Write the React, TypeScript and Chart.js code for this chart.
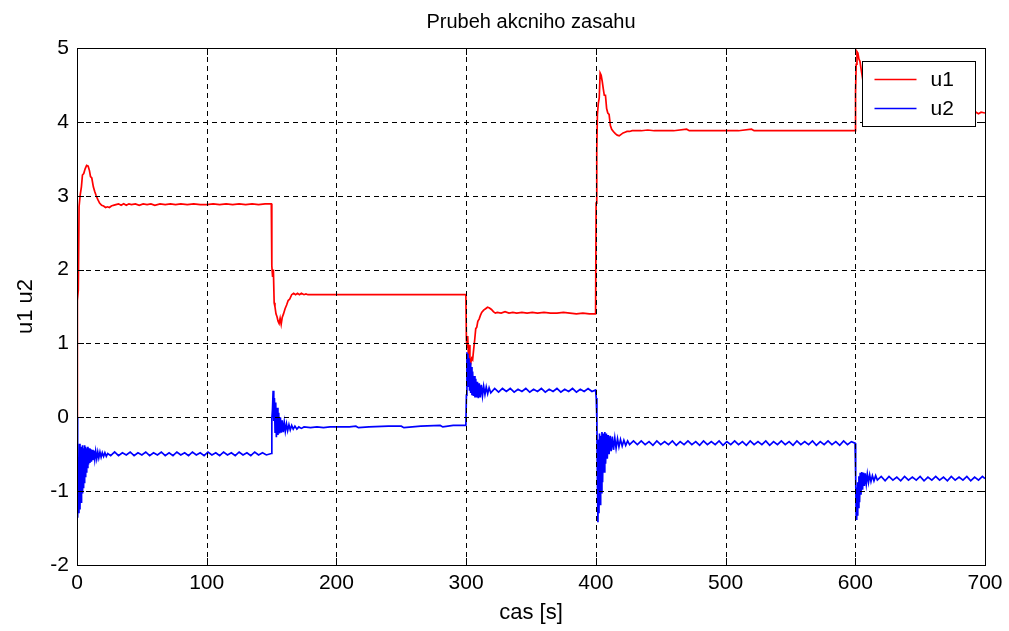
import { useEffect, useRef } from 'react';
import { Chart, registerables } from 'chart.js';

Chart.register(...registerables);

type Pt = [number, number];

const chartTitle = 'Prubeh akcniho zasahu';
const xAxisTitle = 'cas [s]';
const yAxisTitle = 'u1 u2';
const seriesNames = ['u1', 'u2'];
const seriesColors = ['#ff0000', '#0000ff'];
const xTicks = [0, 100, 200, 300, 400, 500, 600, 700];
const yTicks = [-2, -1, 0, 1, 2, 3, 4, 5];

// u1 — control action of the first input, [time s, value]
const u1Start: Pt[] = [
  [0, 0], [0.3, 1.58], [1.0, 1.72], [1.6, 2.85], [2.4, 3.0], [3.4, 3.12], [4.2, 3.28], [5.2, 3.3],
  [6.2, 3.36], [7.4, 3.41], [8.6, 3.4], [9.6, 3.34], [10.4, 3.26], [11.4, 3.24], [12.6, 3.12],
  [13.6, 3.06], [14.8, 3.0], [16.0, 2.95], [17.4, 2.9], [19, 2.87], [20.5, 2.86], [22, 2.84],
  [23.5, 2.85], [25, 2.84], [26.5, 2.86], [28, 2.87], [30, 2.88],
];
const u1Hold1: Pt[] = [
  [32, 2.89], [34, 2.87], [36, 2.89], [38, 2.87], [40, 2.89], [42, 2.88], [45, 2.89], [48, 2.87],
  [51, 2.89], [54, 2.88], [57, 2.89], [60, 2.87], [64, 2.89], [68, 2.88], [72, 2.89], [76, 2.88],
  [80, 2.89], [85, 2.88], [90, 2.89], [95, 2.88], [100, 2.88], [105, 2.89], [110, 2.88], [115, 2.89],
  [120, 2.88], [125, 2.89], [130, 2.88], [135, 2.89], [140, 2.88], [145, 2.89], [149.8, 2.89],
];
const u1Step150: Pt[] = [
  [150.2, 2.05], [150.8, 1.9], [151.4, 2.0], [152.0, 1.55], [152.6, 1.5], [153.4, 1.4], [154.2, 1.36],
  [155.0, 1.3], [155.8, 1.27], [156.6, 1.34], [157.4, 1.26], [158.2, 1.35], [159.2, 1.4], [160.4, 1.47],
  [161.6, 1.52], [162.8, 1.58], [164, 1.6], [165.5, 1.66], [167, 1.68], [168.5, 1.66], [170, 1.68],
  [171.5, 1.66], [173, 1.68], [175, 1.66], [176.5, 1.67], [178, 1.66],
];
const u1Hold2: Pt[] = [[200, 1.66], [230, 1.66], [260, 1.66], [299.8, 1.66]];
const u1Step300: Pt[] = [
  [300.2, 1.05], [300.7, 0.95], [301.2, 1.1], [301.7, 0.85], [302.3, 0.98], [302.9, 0.76], [303.6, 0.74],
  [304.3, 0.8], [305.0, 0.78], [305.8, 0.92], [306.6, 1.05], [307.4, 1.2], [308.2, 1.22], [309.0, 1.3],
  [310, 1.33], [311, 1.38], [312, 1.42], [313.5, 1.45], [315, 1.47], [316.5, 1.49], [318, 1.48],
  [319.5, 1.46], [321, 1.43], [322.5, 1.41], [324, 1.42],
];
const u1Hold3: Pt[] = [
  [327, 1.41], [330, 1.43], [333, 1.41], [336, 1.42], [339, 1.41], [343, 1.42], [347, 1.41], [351, 1.42],
  [355, 1.41], [360, 1.42], [365, 1.41], [370, 1.41], [375, 1.42], [380, 1.41], [385, 1.4], [390, 1.41],
  [395, 1.4], [399.8, 1.4],
];
const u1Step400: Pt[] = [
  [400.2, 2.9], [400.7, 3.6], [401.2, 4.1], [401.9, 4.25], [402.6, 4.32], [403.3, 4.66], [404.1, 4.63],
  [404.9, 4.55], [405.7, 4.45], [406.5, 4.36], [407.4, 4.36], [408.3, 4.18], [409.2, 4.12], [410.2, 4.1],
  [411.2, 3.95], [412.2, 3.9], [413.5, 3.87], [415, 3.84], [416.5, 3.82], [418, 3.81], [419.5, 3.83],
  [421, 3.85], [422.5, 3.86], [424, 3.87], [426, 3.87], [428, 3.88],
];
const u1Hold4: Pt[] = [
  [435, 3.88], [440, 3.89], [445, 3.88], [460, 3.88], [470, 3.9], [472, 3.88], [490, 3.88], [510, 3.88],
  [520, 3.9], [522, 3.88], [540, 3.88], [560, 3.88], [580, 3.88], [599.8, 3.88],
];
const u1Step600: Pt[] = [
  [600.2, 4.4], [600.7, 4.78], [601.3, 4.95], [602.0, 4.93], [602.8, 4.85], [603.6, 4.82], [604.6, 4.7],
  [606, 4.55], [608, 4.38], [610, 4.25], [613, 4.15], [617, 4.1], [622, 4.09], [630, 4.11], [640, 4.12],
  [660, 4.12], [680, 4.12], [690, 4.12], [693, 4.13], [695, 4.11], [697, 4.13], [700, 4.12],
];

// u2 — control action of the second input, [time s, value]
const u2Start: Pt[] = [
  [0, 0], [0.3, -1.0], [0.7, -1.36], [1.1, -0.78], [1.5, -1.3], [1.9, -0.36], [2.3, -1.25], [2.7, -0.45],
  [3.1, -1.15], [3.5, -0.4], [3.9, -1.02], [4.3, -0.38], [4.7, -0.95], [5.1, -0.42], [5.5, -0.88],
  [5.9, -0.38], [6.3, -0.8], [6.7, -0.4], [7.1, -0.74], [7.5, -0.42], [7.9, -0.68], [8.4, -0.4],
  [8.9, -0.64], [9.4, -0.42], [9.9, -0.62], [10.5, -0.43], [11.1, -0.6], [11.7, -0.44], [12.3, -0.58],
  [13, -0.45], [13.7, -0.57], [14.4, -0.46], [15.2, -0.56], [16, -0.47], [16.8, -0.55], [17.7, -0.47],
  [18.6, -0.54], [19.5, -0.48], [20.5, -0.53], [21.5, -0.48], [22.6, -0.53], [23.7, -0.49],
];
const u2Hold1: Pt[] = [
  [26, -0.52], [29, -0.47], [32, -0.52], [35, -0.48], [38, -0.51], [41, -0.47], [44, -0.52], [47, -0.48],
  [50, -0.51], [53, -0.47], [56, -0.52], [59, -0.48], [62, -0.51], [65, -0.47], [68, -0.52], [71, -0.48],
  [74, -0.52], [77, -0.47], [80, -0.51], [83, -0.48], [86, -0.52], [89, -0.47], [92, -0.51], [95, -0.48],
  [98, -0.52], [101, -0.47], [104, -0.51], [107, -0.48], [110, -0.52], [113, -0.47], [116, -0.51],
  [119, -0.48], [122, -0.52], [125, -0.47], [128, -0.51], [131, -0.48], [134, -0.52], [137, -0.47],
  [140, -0.51], [143, -0.48], [146, -0.51], [149.8, -0.49],
];
const u2Step150: Pt[] = [
  [150.2, -0.02], [150.7, 0.1], [151.2, 0.36], [151.7, -0.05], [152.2, 0.26], [152.7, -0.2], [153.2, 0.2],
  [153.7, -0.27], [154.3, 0.13], [154.9, -0.24], [155.5, 0.06], [156.1, -0.22], [156.8, 0.0], [157.5, -0.21],
  [158.2, -0.04], [159, -0.2], [159.8, -0.07], [160.6, -0.19], [161.5, -0.09], [162.4, -0.18], [163.4, -0.1],
  [164.4, -0.17], [165.5, -0.11], [166.7, -0.16], [168, -0.12], [169.5, -0.16], [171, -0.13], [173, -0.15],
  [175, -0.13],
];
const u2Hold2: Pt[] = [
  [180, -0.14], [185, -0.13], [190, -0.14], [195, -0.13], [200, -0.13], [210, -0.13], [215, -0.12],
  [217, -0.14], [225, -0.13], [240, -0.12], [250, -0.12], [252, -0.14], [265, -0.12], [280, -0.11],
  [282, -0.13], [290, -0.11], [299.8, -0.11],
];
const u2Step300: Pt[] = [
  [300.2, 0.3], [300.6, 0.88], [301.0, 0.5], [301.4, 0.86], [301.8, 0.42], [302.2, 0.8], [302.6, 0.36],
  [303.0, 0.74], [303.5, 0.33], [304, 0.68], [304.5, 0.3], [305, 0.62], [305.6, 0.29], [306.2, 0.56],
  [306.8, 0.27], [307.4, 0.52], [308, 0.27], [308.7, 0.48], [309.4, 0.26], [310.1, 0.46], [310.9, 0.27],
  [311.7, 0.44], [312.6, 0.29], [313.5, 0.42], [314.5, 0.31], [315.5, 0.41], [316.6, 0.32], [317.7, 0.4],
  [319, 0.33],
];
const u2Hold3: Pt[] = [
  [322, 0.39], [325, 0.34], [328, 0.39], [331, 0.35], [334, 0.39], [337, 0.34], [340, 0.38], [343, 0.35],
  [346, 0.39], [349, 0.34], [352, 0.38], [355, 0.35], [358, 0.39], [361, 0.34], [364, 0.38], [367, 0.35],
  [370, 0.39], [373, 0.34], [376, 0.38], [379, 0.35], [382, 0.39], [385, 0.34], [388, 0.38], [391, 0.35],
  [394, 0.39], [397, 0.35], [399.8, 0.37],
];
const u2Step400: Pt[] = [
  [400.3, 0.26], [400.8, -0.05], [401.2, -0.9], [401.6, -1.42], [402, -0.3], [402.4, -1.3], [402.8, -0.22],
  [403.2, -1.18], [403.7, -0.25], [404.2, -1.02], [404.7, -0.2], [405.2, -0.88], [405.7, -0.22],
  [406.3, -0.74], [406.9, -0.2], [407.5, -0.63], [408.1, -0.22], [408.8, -0.56], [409.5, -0.24],
  [410.2, -0.5], [411, -0.25], [411.8, -0.46], [412.7, -0.26], [413.6, -0.44], [414.6, -0.28],
  [415.6, -0.42], [416.7, -0.29], [417.8, -0.4], [419, -0.3], [420.3, -0.39], [421.6, -0.31],
  [423, -0.38], [424.5, -0.32], [426, -0.37],
];
const u2Hold4: Pt[] = [
  [429, -0.32], [432, -0.37], [435, -0.32], [438, -0.37], [441, -0.33], [444, -0.38], [447, -0.32],
  [450, -0.37], [453, -0.33], [456, -0.37], [459, -0.32], [462, -0.38], [465, -0.33], [468, -0.37],
  [471, -0.32], [474, -0.37], [477, -0.33], [480, -0.38], [483, -0.32], [486, -0.37], [489, -0.33],
  [492, -0.37], [495, -0.32], [498, -0.38], [501, -0.33], [504, -0.37], [507, -0.32], [510, -0.37],
  [513, -0.33], [516, -0.38], [519, -0.32], [522, -0.37], [525, -0.33], [528, -0.37], [531, -0.32],
  [534, -0.38], [537, -0.33], [540, -0.37], [543, -0.32], [546, -0.37], [549, -0.33], [552, -0.38],
  [555, -0.32], [558, -0.37], [561, -0.33], [564, -0.37], [567, -0.32], [570, -0.38], [573, -0.33],
  [576, -0.37], [579, -0.32], [582, -0.37], [585, -0.33], [588, -0.38], [591, -0.32], [594, -0.37],
  [597, -0.33], [599.8, -0.35],
];
const u2Step600: Pt[] = [
  [600.3, -0.8], [600.7, -1.38], [601.1, -0.95], [601.5, -1.32], [601.9, -0.88], [602.3, -1.22],
  [602.8, -0.8], [603.3, -1.15], [603.8, -0.75], [604.4, -1.05], [605, -0.74], [605.6, -0.98],
  [606.3, -0.75], [607, -0.93], [607.7, -0.76], [608.5, -0.9], [609.3, -0.77], [610.2, -0.88],
  [611.1, -0.78], [612.1, -0.87], [613.2, -0.79], [614.4, -0.86], [615.7, -0.79], [617, -0.85],
];
const u2Hold5: Pt[] = [
  [620, -0.8], [623, -0.86], [626, -0.8], [629, -0.85], [632, -0.81], [635, -0.86], [638, -0.8],
  [641, -0.85], [644, -0.81], [647, -0.85], [650, -0.8], [653, -0.86], [656, -0.81], [659, -0.85],
  [662, -0.8], [665, -0.85], [668, -0.81], [671, -0.86], [674, -0.8], [677, -0.85], [680, -0.81],
  [683, -0.85], [686, -0.8], [689, -0.86], [692, -0.81], [695, -0.85], [698, -0.8], [700, -0.83],
];

const u1Segments = [u1Start, u1Hold1, u1Step150, u1Hold2, u1Step300, u1Hold3, u1Step400, u1Hold4, u1Step600];
const u2Segments = [u2Start, u2Hold1, u2Step150, u2Hold2, u2Step300, u2Hold3, u2Step400, u2Hold4, u2Step600, u2Hold5];

const toXY = (segments: Pt[][]) => segments.flat().map(([x, y]) => ({ x, y }));

const FONT = '"Liberation Sans", Arial, sans-serif';

// Boxed axes in the style of a classic MATLAB figure: dashed grid over the traces,
// inward tick marks on all four sides, a solid frame and an in-plot legend.
const figurePlugin = {
  id: 'figureFrame',
  afterDatasetsDraw(chart: any) {
    const { ctx, chartArea: a, scales } = chart;
    const xs = scales.x;
    const ys = scales.y;
    const tick = 7;
    ctx.save();
    ctx.strokeStyle = '#000';
    ctx.lineWidth = 1;

    ctx.setLineDash([5, 4]);
    ctx.beginPath();
    xTicks.slice(1, -1).forEach((v) => {
      const px = Math.round(xs.getPixelForValue(v)) + 0.5;
      ctx.moveTo(px, a.top);
      ctx.lineTo(px, a.bottom);
    });
    yTicks.slice(1, -1).forEach((v) => {
      const py = Math.round(ys.getPixelForValue(v)) + 0.5;
      ctx.moveTo(a.left, py);
      ctx.lineTo(a.right, py);
    });
    ctx.stroke();
    ctx.setLineDash([]);

    ctx.beginPath();
    xTicks.forEach((v) => {
      const px = Math.round(xs.getPixelForValue(v)) + 0.5;
      ctx.moveTo(px, a.bottom);
      ctx.lineTo(px, a.bottom - tick);
      ctx.moveTo(px, a.top);
      ctx.lineTo(px, a.top + tick);
    });
    yTicks.forEach((v) => {
      const py = Math.round(ys.getPixelForValue(v)) + 0.5;
      ctx.moveTo(a.left, py);
      ctx.lineTo(a.left + tick, py);
      ctx.moveTo(a.right, py);
      ctx.lineTo(a.right - tick, py);
    });
    ctx.stroke();

    ctx.strokeRect(Math.round(a.left) + 0.5, Math.round(a.top) + 0.5,
      Math.round(a.right - a.left), Math.round(a.bottom - a.top));

    // legend box
    const lw = 113;
    const lh = 65;
    const lx = Math.round(a.right - 10 - lw) + 0.5;
    const ly = Math.round(a.top + 13) + 0.5;
    ctx.fillStyle = '#fff';
    ctx.fillRect(lx, ly, lw, lh);
    ctx.strokeStyle = '#000';
    ctx.strokeRect(lx, ly, lw, lh);
    seriesNames.forEach((name, i) => {
      const yy = ly + 18 + i * 29;
      ctx.strokeStyle = seriesColors[i];
      ctx.lineWidth = 1.6;
      ctx.beginPath();
      ctx.moveTo(lx + 12, yy);
      ctx.lineTo(lx + 54, yy);
      ctx.stroke();
      ctx.fillStyle = '#000';
      ctx.font = `21px ${FONT}`;
      ctx.textBaseline = 'middle';
      ctx.textAlign = 'left';
      ctx.fillText(name, lx + 68, yy + 1);
    });

    // figure title
    ctx.fillStyle = '#000';
    ctx.font = `20px ${FONT}`;
    ctx.textAlign = 'center';
    ctx.textBaseline = 'middle';
    ctx.fillText(chartTitle, (a.left + a.right) / 2, 22);
    ctx.restore();
  },
};

export default function App() {
  const canvasRef = useRef<HTMLCanvasElement | null>(null);

  useEffect(() => {
    const canvas = canvasRef.current;
    if (!canvas) return;
    const chart = new Chart(canvas, {
      type: 'line',
      data: {
        datasets: [
          {
            label: seriesNames[0],
            data: toXY(u1Segments),
            borderColor: seriesColors[0],
            borderWidth: 1.7,
            pointRadius: 0,
            tension: 0,
            order: 2,
          },
          {
            label: seriesNames[1],
            data: toXY(u2Segments),
            borderColor: seriesColors[1],
            borderWidth: 1.7,
            pointRadius: 0,
            tension: 0,
            order: 1,
          },
        ],
      },
      options: {
        animation: false,
        responsive: false,
        events: [],
        layout: { padding: { top: 48, right: 24, left: 0, bottom: 0 } },
        plugins: { legend: { display: false }, tooltip: { enabled: false }, title: { display: false } },
        scales: {
          x: {
            type: 'linear',
            min: 0,
            max: 700,
            afterBuildTicks: (scale: any) => {
              scale.ticks = xTicks.map((value) => ({ value }));
            },
            afterFit: (scale: any) => {
              scale.height = 66;
            },
            grid: { display: false, drawTicks: false },
            border: { display: false },
            ticks: { color: '#000', padding: 6, maxRotation: 0, font: { family: FONT, size: 21 } },
            title: {
              display: true,
              text: xAxisTitle,
              color: '#000',
              font: { family: FONT, size: 22 },
              padding: { top: 0, bottom: 5 },
            },
          },
          y: {
            type: 'linear',
            min: -2,
            max: 5,
            afterBuildTicks: (scale: any) => {
              scale.ticks = yTicks.map((value) => ({ value }));
            },
            afterFit: (scale: any) => {
              scale.width = 77;
            },
            grid: { display: false, drawTicks: false },
            border: { display: false },
            ticks: { color: '#000', padding: 8, font: { family: FONT, size: 21 } },
            title: {
              display: true,
              text: yAxisTitle,
              color: '#000',
              font: { family: FONT, size: 22 },
              padding: { top: 13, bottom: 0 },
            },
          },
        },
      },
      plugins: [figurePlugin],
    });
    return () => chart.destroy();
  }, []);

  return (
    <div style={{ position: 'absolute', left: 0, top: 0, width: 1009, height: 631, background: '#fff' }}>
      <canvas ref={canvasRef} width={1009} height={631} />
    </div>
  );
}
